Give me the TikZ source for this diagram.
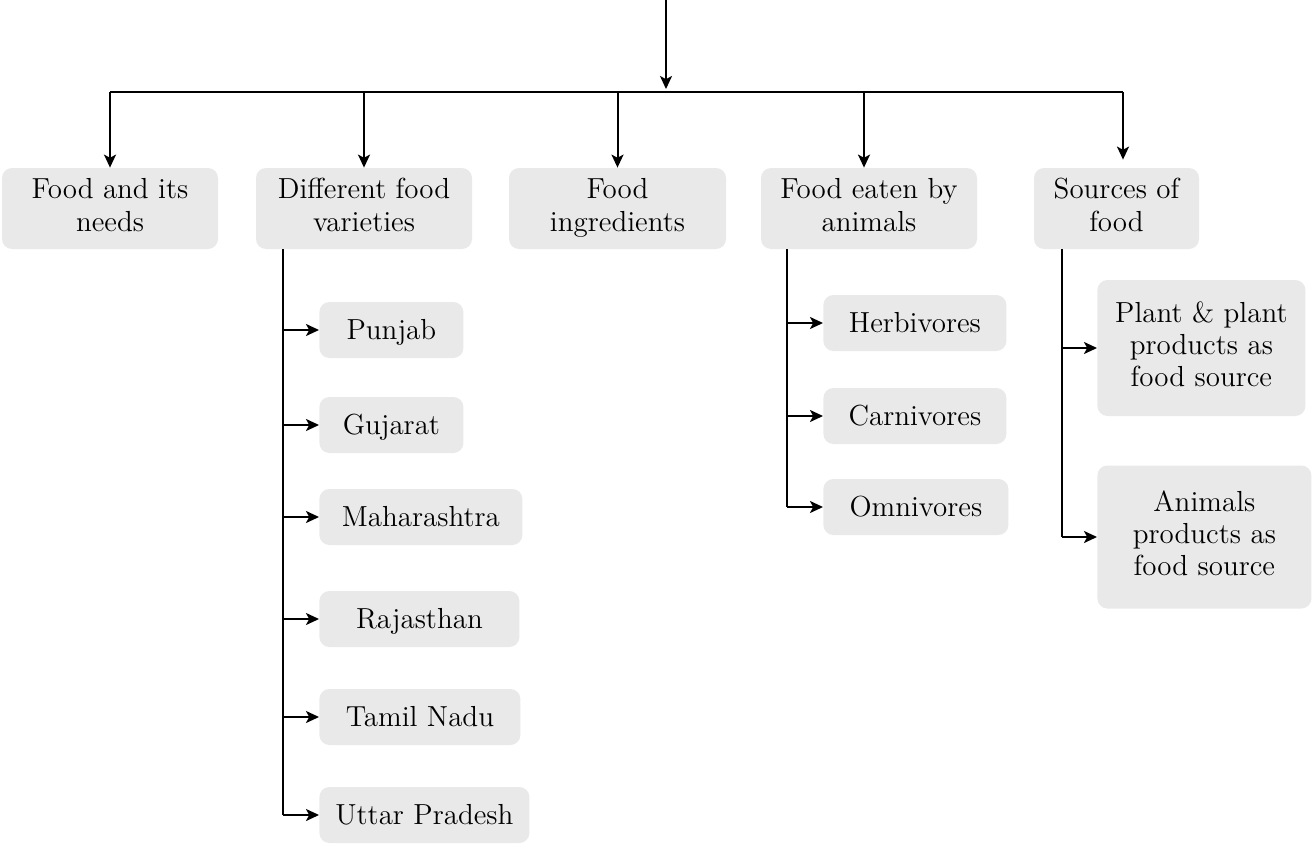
\documentclass[tikz,border=0pt]{standalone}
\usepackage{fontspec}
\usetikzlibrary{arrows.meta,calc}
\definecolor{boxgray}{HTML}{E9E9E9}
\newcommand{\kstrut}{\rule[-4.5pt]{0pt}{18pt}}
\begin{document}
\begin{tikzpicture}[x=0.5pt,y=-0.5pt,
  box/.style={fill=boxgray, rounded corners=5pt, align=center, inner sep=0pt,
    font=\fontsize{14.5}{16.2}\selectfont},
  kid/.style={box, anchor=west, minimum height=28pt},
  wire/.style={line width=1pt},
  link/.style={line width=1pt, -{Stealth[length=6.5pt,width=6pt,inset=1.6pt]}}]
\useasboundingbox (0,0) rectangle (1312,846);

% top level
\node[box, minimum width=108pt, minimum height=40.5pt] (b1) at (110,208.5) {\strut Food and its\\needs\strut};
\node[box, minimum width=108pt, minimum height=40.5pt] (b2) at (364,208.5) {\strut Different food\\varieties\strut};
\node[box, minimum width=108.5pt, minimum height=40.5pt] (b3) at (617.5,208.5) {\strut Food\\ingredients\strut};
\node[box, minimum width=108pt, minimum height=40.5pt] (b4) at (869,208.5) {\strut Food eaten by\\animals\strut};
\node[box, minimum width=82.5pt, minimum height=40.5pt] (b5) at (1116.5,208.5) {\strut Sources of\\food\strut};

% children of b2
\node[kid, minimum width=72pt] (c1) at (319,330) {\kstrut Punjab};
\node[kid, minimum width=72pt] (c2) at (319,425) {\kstrut Gujarat};
\node[kid, minimum width=101.5pt] (c3) at (319,517) {\kstrut Maharashtra};
\node[kid, minimum width=100pt] (c4) at (319,619) {\kstrut Rajasthan};
\node[kid, minimum width=100.5pt] (c5) at (319,717) {\kstrut Tamil Nadu};
\node[kid, minimum width=105pt] (c6) at (319,815) {\kstrut Uttar Pradesh};

% children of b4
\node[kid, minimum width=91.5pt] (d1) at (823,323) {\kstrut Herbivores};
\node[kid, minimum width=91.5pt] (d2) at (823,416) {\kstrut Carnivores};
\node[kid, minimum width=92.5pt] (d3) at (823,507) {\kstrut Omnivores};

% children of b5
\node[box, anchor=west, minimum width=104pt, minimum height=68pt] (e1) at (1097,348) {\strut Plant \& plant\\products as\\food source\strut};
\node[box, anchor=west, minimum width=107pt, minimum height=71.5pt] (e2) at (1097,537) {\strut Animals\\products as\\food source\strut};

% top connector and bus
\coordinate (top) at (666,0);
\coordinate (bus) at (666,92);
\draw[link] (top) -- ([yshift=1.5pt]bus);
\draw[wire] (b1.north |- bus) -- ([xshift=3.25pt]b5.north |- bus);
\draw[link] (b1.north |- bus) -- (b1.north);
\draw[link] (b2.north |- bus) -- (b2.north);
\draw[link] (b3.north |- bus) -- (b3.north);
\draw[link] ([xshift=-2.5pt]b4.north |- bus) -- ([xshift=-2.5pt]b4.north);
\draw[link] ([xshift=3.25pt]b5.north |- bus) -- ([xshift=3.25pt,yshift=4pt]b5.north);

% left column
\coordinate (s2) at ([xshift=13.5pt]b2.south west);
\draw[wire] (s2) -- (s2 |- c6.west);
\foreach \c in {c1,c2,c3,c4,c5,c6} \draw[link] (s2 |- \c.west) -- (\c.west);

% middle column
\coordinate (s4) at ([xshift=13pt]b4.south west);
\draw[wire] (s4) -- (s4 |- d3.west);
\foreach \c in {d1,d2,d3} \draw[link] (s4 |- \c.west) -- (\c.west);

% right column
\coordinate (s5) at ([xshift=14pt]b5.south west);
\draw[wire] (s5) -- (s5 |- e2.west);
\foreach \c in {e1,e2} \draw[link] (s5 |- \c.west) -- (\c.west);
\end{tikzpicture}
\end{document}
